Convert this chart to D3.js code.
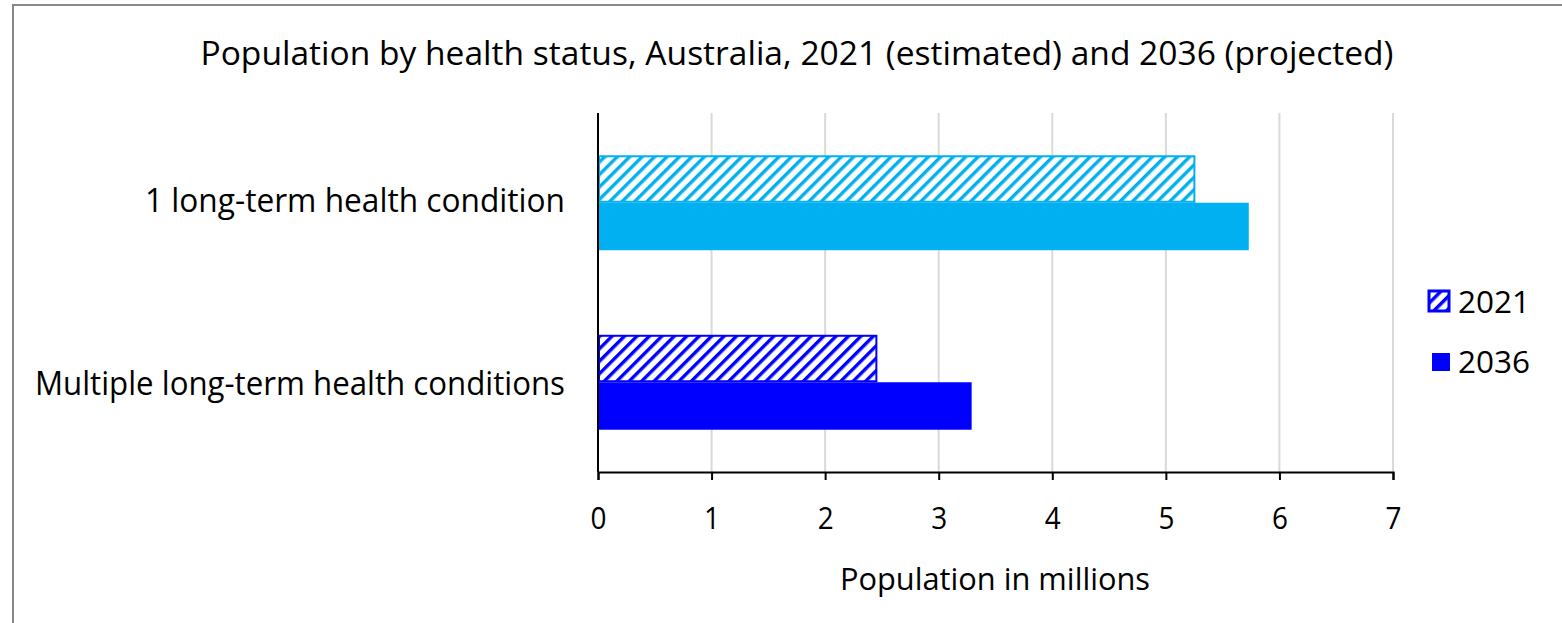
<!DOCTYPE html>
<html>
<head>
<meta charset="utf-8">
<script src="https://cdn.jsdelivr.net/npm/d3@7"></script>
<style>
  html, body { margin: 0; padding: 0; background: #fff; }
  svg { display: block; font-family: "Open Sans", "Noto Sans", sans-serif; }
</style>
</head>
<body>
<svg id="chart" width="1562" height="623"></svg>
<script>
// Population (millions) by health status
const categories = ["1 long-term health condition", "Multiple long-term health conditions"];
const seriesNames = ["2021", "2036"];
const values2021 = [5.26, 2.46];
const values2036 = [5.73, 3.29];
const xTicks = [0, 1, 2, 3, 4, 5, 6, 7];
const categoryColors = ["#00B0F0", "#0000FF"];
const titleText = "Population by health status, Australia, 2021 (estimated) and 2036 (projected)";
const xAxisTitle = "Population in millions";

const svg = d3.select("#chart");
const W = 1562, H = 623;

// chart border (top and left edges visible)
svg.append("path")
  .attr("d", `M13,${H} L13,5 L${W},5`)
  .attr("fill", "none").attr("stroke", "#888").attr("stroke-width", 2);

const plot = { left: 598, right: 1393, top: 113, bottom: 472 };

const x = d3.scaleLinear().domain([0, 7]).range([plot.left, plot.right]);
const y = d3.scaleBand().domain(categories).range([plot.top, plot.bottom])
  .paddingInner(0.471).paddingOuter(0.2355);
const ySub = d3.scaleBand().domain(seriesNames).range([0, y.bandwidth()]);

// diagonal hatch patterns, one per colour
const defs = svg.append("defs");
function hatch(id, color) {
  const p = defs.append("pattern").attr("id", id)
    .attr("patternUnits", "userSpaceOnUse")
    .attr("width", 8.8).attr("height", 8.8)
    .attr("patternTransform", "rotate(45)");
  p.append("rect").attr("width", 8.8).attr("height", 8.8).attr("fill", "#fff");
  p.append("rect").attr("x", 0).attr("width", 3.4).attr("height", 8.8).attr("fill", color);
}
categoryColors.forEach((c, i) => hatch("hatch" + i, c));

// vertical gridlines
svg.append("g").selectAll("line").data(xTicks.slice(1)).join("line")
  .attr("x1", d => x(d)).attr("x2", d => x(d))
  .attr("y1", plot.top).attr("y2", plot.bottom)
  .attr("stroke", "#d9d9d9").attr("stroke-width", 2);

// bars
const rows = categories.map((c, i) => ({ cat: c, i, v2021: values2021[i], v2036: values2036[i] }));
const g = svg.append("g");
rows.forEach(r => {
  const color = categoryColors[r.i];
  const y0 = y(r.cat);
  // 2036 solid
  g.append("rect")
    .attr("x", x(0)).attr("y", y0 + ySub("2036"))
    .attr("width", x(r.v2036) - x(0)).attr("height", ySub.bandwidth())
    .attr("fill", color);
  // 2021 hatched with outline
  g.append("rect")
    .attr("x", x(0) + 1).attr("y", y0 + ySub("2021") + 1)
    .attr("width", x(r.v2021) - x(0) - 2).attr("height", ySub.bandwidth() - 2)
    .attr("fill", `url(#hatch${r.i})`)
    .attr("stroke", color).attr("stroke-width", 2);
});

// x axis
const xAxis = svg.append("g").attr("transform", `translate(0,${plot.bottom})`)
  .call(d3.axisBottom(x).tickValues(xTicks).tickFormat(d3.format("d")).tickSize(8).tickPadding(27));
xAxis.select(".domain").attr("stroke", "#000").attr("stroke-width", 2);
xAxis.selectAll(".tick line").attr("stroke", "#000").attr("stroke-width", 2);
xAxis.selectAll(".tick text").attr("font-size", 31).attr("fill", "#000")
  .attr("font-family", "\"Open Sans\", sans-serif").attr("dy", "0.71em")
  .attr("transform", "scale(0.9,1)")
  .attr("x", 0);

// y axis line
svg.append("line").attr("x1", plot.left).attr("x2", plot.left)
  .attr("y1", plot.top).attr("y2", plot.bottom)
  .attr("stroke", "#000").attr("stroke-width", 2);

// text helper: fixed width to mimic a narrow typeface
function label(txt, xPos, yPos, size, anchor, width) {
  const t = svg.append("text").attr("x", xPos).attr("y", yPos)
    .attr("font-size", size).attr("text-anchor", anchor).attr("fill", "#000")
    .text(txt);
  if (width) t.attr("textLength", width).attr("lengthAdjust", "spacingAndGlyphs");
  return t;
}

label(titleText, 797, 65, 33, "middle", 1193);

// category labels
label(categories[0], 565, 212, 32, "end", 420);
label(categories[1], 565, 395, 32, "end", 530);

// axis title
label(xAxisTitle, 995, 590, 31, "middle", 310);

// legend
const legend = svg.append("g");
legend.append("rect").attr("x", 1429).attr("y", 291).attr("width", 20).attr("height", 20)
  .attr("fill", "url(#hatch1)").attr("stroke", categoryColors[1]).attr("stroke-width", 3);
legend.append("rect").attr("x", 1432).attr("y", 353).attr("width", 18).attr("height", 18)
  .attr("fill", categoryColors[1]);
label(seriesNames[0], 1458, 313, 31, "start", 72);
label(seriesNames[1], 1458, 373, 31, "start", 72);
</script>
</body>
</html>
